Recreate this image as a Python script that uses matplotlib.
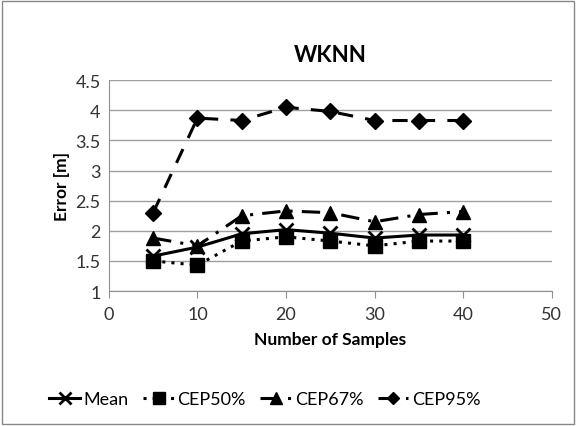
import matplotlib
matplotlib.use('Agg')
import matplotlib.pyplot as plt
from matplotlib.patches import Rectangle

samples = [5, 10, 15, 20, 25, 30, 35, 40]
mean_err = [1.58, 1.73, 1.95, 2.02, 1.96, 1.88, 1.93, 1.93]
cep50 = [1.50, 1.43, 1.83, 1.90, 1.83, 1.75, 1.83, 1.83]
cep67 = [1.88, 1.75, 2.25, 2.33, 2.30, 2.15, 2.27, 2.32]
cep95 = [2.30, 3.87, 3.83, 4.05, 3.98, 3.83, 3.83, 3.83]

plt.rcParams['font.family'] = ['Lato', 'DejaVu Sans']

fig = plt.figure(figsize=(5.76, 4.27), dpi=100)
fig.patches.append(Rectangle((0.004, 0.004), 0.992, 0.992, transform=fig.transFigure,
                             fill=False, edgecolor='#888888', lw=1))
ax = fig.add_axes([0.189, 0.316, 0.769, 0.494])

ax.plot(samples, mean_err, '-', color='black', lw=2.2, marker='x', ms=10, mew=2, label='Mean')
ax.plot(samples, cep50, color='black', lw=2.2, ls=(0, (1, 2)), marker='s', ms=10, label='CEP50%')
ax.plot(samples, cep67, color='black', lw=2.2, ls=(0, (6, 3, 1, 3)), marker='^', ms=10, label='CEP67%')
ax.plot(samples, cep95, color='black', lw=2.2, ls=(0, (5, 4)), marker='D', ms=8, label='CEP95%')

ax.set_xlim(0, 50)
ax.set_ylim(1, 4.5)
ax.set_xticks(range(0, 51, 10))
ax.set_yticks([1, 1.5, 2, 2.5, 3, 3.5, 4, 4.5])
ax.set_yticklabels(['1', '1.5', '2', '2.5', '3', '3.5', '4', '4.5'])
ax.yaxis.grid(True, color='#a0a0a0', lw=1)
ax.set_axisbelow(True)
for s in ['top', 'right']:
    ax.spines[s].set_visible(False)
for s in ['left', 'bottom']:
    ax.spines[s].set_color('#909090')
ax.tick_params(labelsize=13, colors='#333333', length=0, pad=6)
ax.tick_params(axis='x', length=5, color='#909090', direction='out')

ax.set_title('WKNN', fontsize=16, fontweight='bold', pad=14)
ax.set_xlabel('Number of Samples', fontsize=12.5, fontweight='bold', labelpad=6)
ax.set_ylabel('Error [m]', fontsize=12.5, fontweight='bold', labelpad=4)

fig.legend(loc='center', bbox_to_anchor=(0.46, 0.063), ncol=4, frameon=False, fontsize=13,
           handlelength=1.7, handletextpad=0.2, columnspacing=0.8, markerscale=0.8)

fig.savefig('out.png', dpi=100)
